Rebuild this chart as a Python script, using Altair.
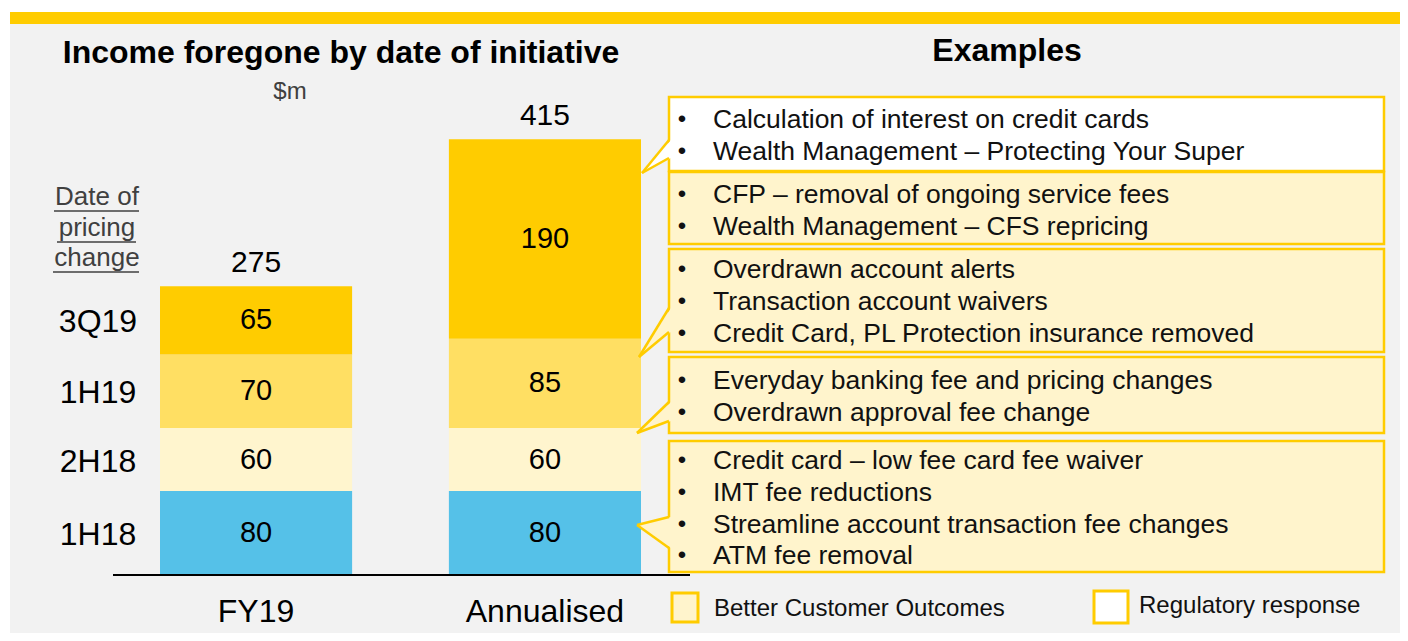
import altair as alt
import pandas as pd

# ---------------- data ----------------
periods = ["1H18", "2H18", "1H19", "3Q19"]
categories = ["FY19", "Annualised"]
fy19_values = [80, 60, 70, 65]
annualised_values = [80, 60, 85, 190]
period_colors = ["#55C1E8", "#FFF5CE", "#FFDF63", "#FFCC00"]

title_left = "Income foregone by date of initiative"
unit_label = "$m"
title_right = "Examples"
axis_note = ["Date of", "pricing", "change"]

examples = [
    ["Calculation of interest on credit cards",
     "Wealth Management \u2013 Protecting Your Super"],
    ["CFP \u2013 removal of ongoing service fees",
     "Wealth Management \u2013 CFS repricing"],
    ["Overdrawn account alerts",
     "Transaction account waivers",
     "Credit Card, PL Protection insurance removed"],
    ["Everyday banking fee and pricing changes",
     "Overdrawn approval fee change"],
    ["Credit card \u2013 low fee card fee waiver",
     "IMT fee reductions",
     "Streamline account transaction fee changes",
     "ATM fee removal"],
]
example_kind = ["Regulatory response", "Better Customer Outcomes",
                "Better Customer Outcomes", "Better Customer Outcomes",
                "Better Customer Outcomes"]
legend_labels = ["Better Customer Outcomes", "Regulatory response"]

# ---------------- styles / layout ----------------
YELLOW = "#FFCC00"
LIGHT = "#FFF4CC"
kind_fill = {"Better Customer Outcomes": LIGHT, "Regulatory response": "#FFFFFF"}
FONT = "Liberation Sans"

OFF = 8
W, H = 1392, 625


def px(v):
    return v - OFF


k = 1.05
y_zero = px(575)
x_scale = alt.Scale(domain=categories, range=[px(160), px(641)],
                    paddingInner=0.335, paddingOuter=0)
y_scale = alt.Scale(domain=[0, 500], range=[y_zero, y_zero - 500 * k],
                    nice=False, zero=False)

# bars table
rows = []
for c, vals in zip(categories, [fy19_values, annualised_values]):
    for i, (p, v) in enumerate(zip(periods, vals)):
        rows.append({"cat": c, "period": p, "idx": i, "value": v})
bars_df = pd.DataFrame(rows)

X = alt.X("cat:N", scale=x_scale, axis=None)

base = alt.Chart(bars_df).transform_stack(
    stack="value", groupby=["cat"], as_=["v0", "v1"],
    sort=[alt.SortField("idx", order="ascending")]
).transform_calculate(mid="(datum.v0 + datum.v1) / 2")

bars = base.mark_bar().encode(
    x=X,
    y=alt.Y("v0:Q", scale=y_scale, axis=None),
    y2="v1:Q",
    color=alt.Color("period:N", scale=alt.Scale(domain=periods, range=period_colors), legend=None),
)

seg_labels = base.mark_text(fontSize=29, color="#000000", baseline="middle").encode(
    x=X, y=alt.Y("mid:Q", scale=y_scale, axis=None), text="value:Q"
)

totals = alt.Chart(bars_df).transform_aggregate(
    total="sum(value)", groupby=["cat"]
).mark_text(fontSize=30, color="#000000", baseline="middle", dy=-23).encode(
    x=X, y=alt.Y("total:Q", scale=y_scale, axis=None), text="total:Q"
)

period_labels = base.transform_filter(alt.datum.cat == "FY19").mark_text(
    fontSize=32, color="#000000", baseline="middle", align="center", dy=2
).encode(x=alt.value(px(98)), y=alt.Y("mid:Q", scale=y_scale, axis=None), text="period:N")

cat_labels = alt.Chart(pd.DataFrame({"cat": categories})).mark_text(
    fontSize=32, color="#000000", baseline="middle"
).encode(x=X, y=alt.value(px(612)), text="cat:N")

baseline = alt.Chart(pd.DataFrame({"z": [0]})).mark_rule(color="#000000", strokeWidth=2).encode(
    x=alt.value(px(113)), x2=alt.value(px(690)), y=alt.Y("z:Q", scale=y_scale, axis=None)
)


def XN(f):
    return alt.X(f, scale=None, axis=None)


def YN(f):
    return alt.Y(f, scale=None, axis=None)


# decorative rects (top strip)
decor_df = pd.DataFrame([
    {"x0": 0, "x1": W, "y0": 0, "y1": px(12), "fill": "#FFFFFF"},
    {"x0": 0, "x1": px(10), "y0": 0, "y1": H, "fill": "#FFFFFF"},
    {"x0": px(10), "x1": W, "y0": px(12), "y1": px(24), "fill": YELLOW},
])
decor = alt.Chart(decor_df).mark_rect().encode(
    x=XN("x0:Q"), x2="x1:Q", y=YN("y0:Q"), y2="y1:Q",
    fill=alt.Fill("fill:N", scale=None, legend=None)
)


def label(text, x, y, size, weight="normal", color="#000000", align="center"):
    return alt.Chart(pd.DataFrame({"t": [text]})).mark_text(
        fontSize=size, fontWeight=weight, color=color, align=align, baseline="middle"
    ).encode(x=alt.value(px(x)), y=alt.value(px(y)), text="t:N")


titles = [
    label(title_left, 341, 53, 32, "bold"),
    label(unit_label, 290, 92, 24, color="#404040"),
    label(title_right, 1007, 51, 32, "bold"),
]

# "Date of pricing change" note with underlines
note_y = [197, 228, 258]
note_layers = [label(t, 97, y, 26, color="#404040") for t, y in zip(axis_note, note_y)]
ul_df = pd.DataFrame([
    {"x0": px(54), "x1": px(139), "y": px(211)},
    {"x0": px(57), "x1": px(136), "y": px(242)},
    {"x0": px(53), "x1": px(139), "y": px(272)},
])
underlines = alt.Chart(ul_df).mark_rule(color="#404040", strokeWidth=1.5).encode(
    x=XN("x0:Q"), x2="x1:Q", y=YN("y:Q")
)

# example boxes
box_left, box_right = 669, 1384
box_ys = [(97, 171), (172, 244), (249, 352), (357, 433), (441, 572)]
first_line = [120, 195, 270, 381, 461]
line_step = 31.8
box_df = pd.DataFrame([
    {"x0": px(box_left), "x1": px(box_right), "y0": px(a), "y1": px(b), "fill": kind_fill[kd]}
    for (a, b), kd in zip(box_ys, example_kind)
])
boxes = alt.Chart(box_df).mark_rect(stroke=YELLOW, strokeWidth=2.5).encode(
    x=XN("x0:Q"), x2="x1:Q", y=YN("y0:Q"), y2="y1:Q",
    fill=alt.Fill("fill:N", scale=None, legend=None)
)

# pointers (tip_x, tip_y, base_y1, base_y2, box index)
pointers = [(642, 173, 140, 158, 0), (639, 357, 308, 332, 2),
            (637, 433, 402, 421, 3), (637, 525, 517, 548, 4)]
area_rows, edge_rows = [], []
for pid, (tx, ty, b1, b2, bi) in enumerate(pointers):
    f = kind_fill[example_kind[bi]]
    area_rows.append({"id": pid, "x": px(tx), "ya": px(ty), "yb": px(ty), "fill": f})
    area_rows.append({"id": pid, "x": px(box_left + 2), "ya": px(b1), "yb": px(b2), "fill": f})
    edge_rows.append({"x0": px(tx), "y0": px(ty), "x1": px(box_left), "y1": px(b1)})
    edge_rows.append({"x0": px(tx), "y0": px(ty), "x1": px(box_left), "y1": px(b2)})
pointer_fill = alt.Chart(pd.DataFrame(area_rows)).mark_area(orient="vertical").encode(
    x=XN("x:Q"), y=alt.Y("ya:Q", scale=None, axis=None, stack=None), y2="yb:Q",
    detail="id:N", fill=alt.Fill("fill:N", scale=None, legend=None)
)
pointer_edges = alt.Chart(pd.DataFrame(edge_rows)).mark_rule(color=YELLOW, strokeWidth=2.5).encode(
    x=XN("x0:Q"), y=YN("y0:Q"), x2="x1:Q", y2="y1:Q"
)

text_rows = []
for bi, lines in enumerate(examples):
    for j, t in enumerate(lines):
        text_rows.append({"t": t, "y": px(first_line[bi] + j * line_step)})
text_df = pd.DataFrame(text_rows)
bullets = alt.Chart(text_df).mark_text(fontSize=24, color="#111111", align="center", baseline="middle").encode(
    x=alt.value(px(682)), y=YN("y:Q"), text=alt.value("\u2022")
)
box_text = alt.Chart(text_df).mark_text(fontSize=26.5, color="#111111", align="left", baseline="middle").encode(
    x=alt.value(px(713)), y=YN("y:Q"), text="t:N"
)

# legend
leg_df = pd.DataFrame([
    {"x0": px(672), "x1": px(698), "y0": px(593), "y1": px(622), "fill": kind_fill[legend_labels[0]]},
    {"x0": px(1094), "x1": px(1128), "y0": px(591), "y1": px(623), "fill": kind_fill[legend_labels[1]]},
])
leg_boxes = alt.Chart(leg_df).mark_rect(stroke=YELLOW, strokeWidth=3).encode(
    x=XN("x0:Q"), x2="x1:Q", y=YN("y0:Q"), y2="y1:Q",
    fill=alt.Fill("fill:N", scale=None, legend=None)
)
leg_texts = [
    label(legend_labels[0], 714, 609, 24, color="#111111", align="left"),
    label(legend_labels[1], 1139, 606, 24, color="#111111", align="left"),
]

chart = alt.layer(
    decor, bars, seg_labels, totals, period_labels, cat_labels, baseline,
    *note_layers, underlines, boxes, pointer_fill, pointer_edges,
    bullets, box_text, *titles, leg_boxes, *leg_texts
).properties(
    width=W, height=H, padding=0,
    autosize=alt.AutoSizeParams(type="fit", contains="padding"),
).configure_view(strokeWidth=0).configure(background="#F2F2F2", font=FONT)

chart.save("out.html", embed_options={"renderer": "svg", "actions": False})
